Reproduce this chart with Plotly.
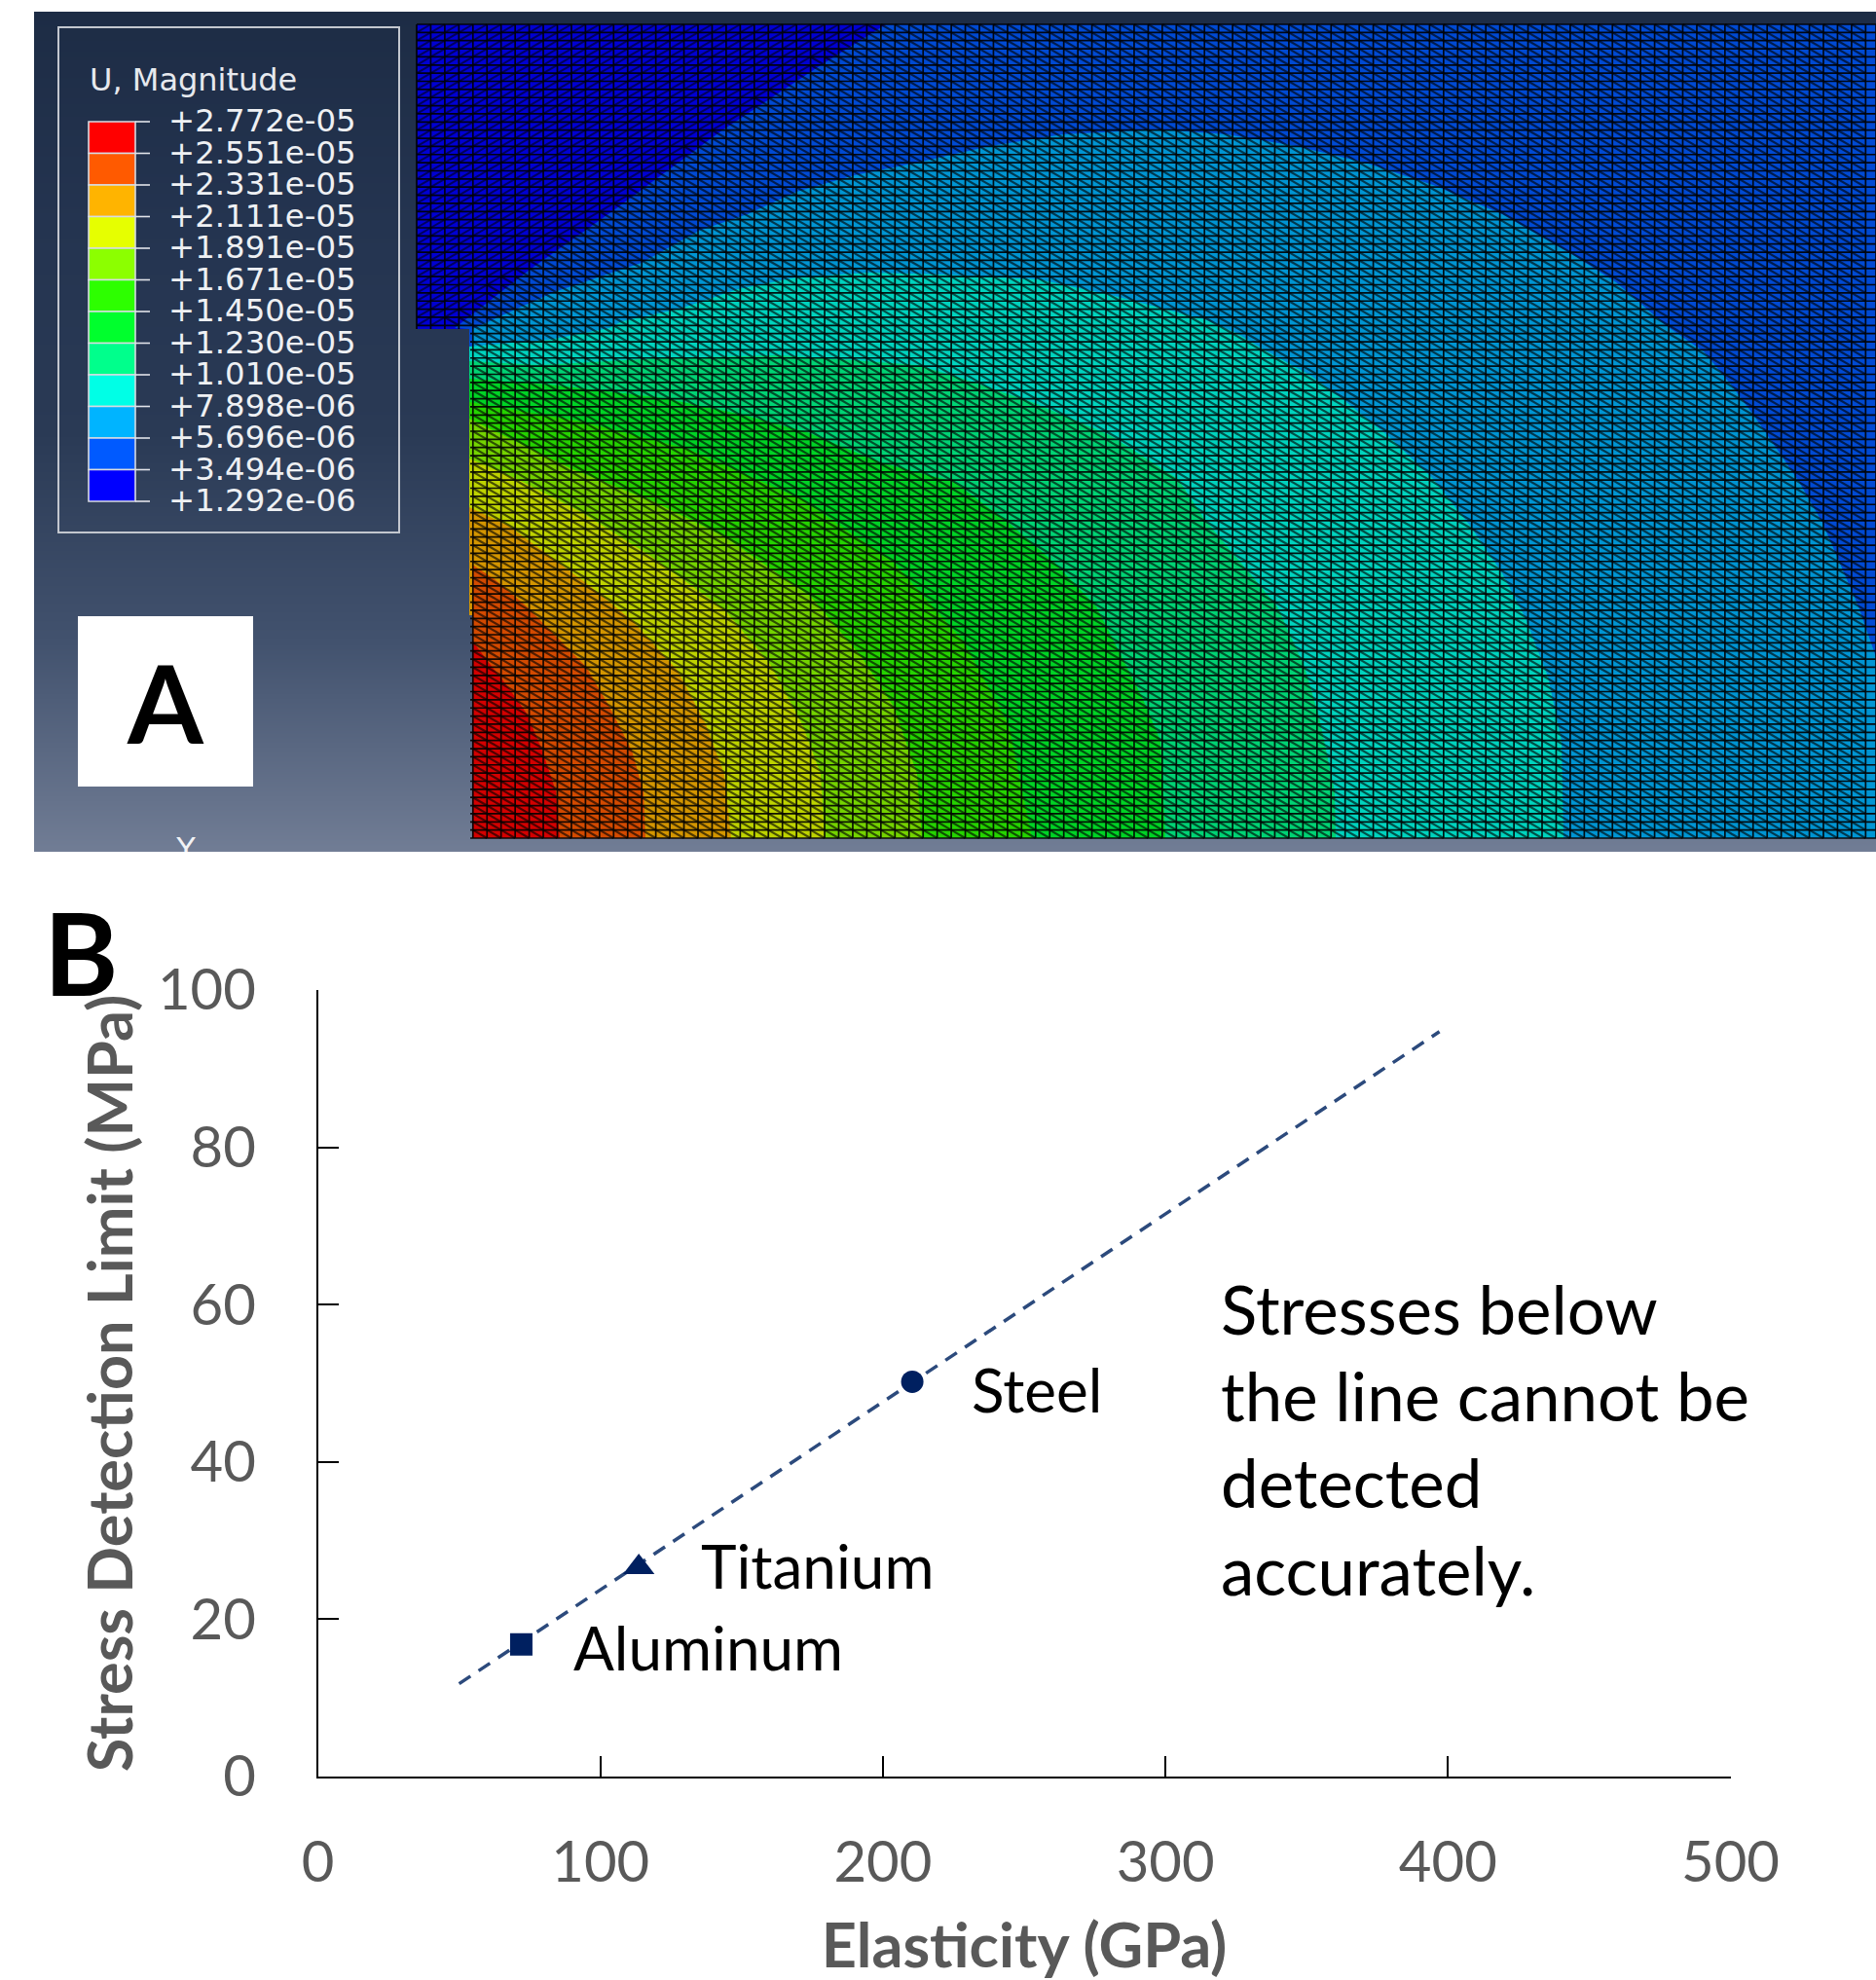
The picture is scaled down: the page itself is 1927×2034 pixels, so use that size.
import numpy as np
import plotly.graph_objects as go

# ---------- Panel B data ----------
material_names = ["Aluminum", "Titanium", "Steel"]
elasticity = [72, 113.6, 210.4]
stress_limit = [16.8, 26.6, 50.2]
material_symbols = ["square", "triangle-up", "circle"]
material_sizes = [23, 28, 23]
fit_x = [50, 397]
fit_y = [11.8, 94.7]
x_ticks = [0, 100, 200, 300, 400, 500]
y_ticks = [0, 20, 40, 60, 80, 100]
label_x = [89.6, 134.9, 230.6]
label_y = [16.4, 26.8, 49.25]
note_lines = ["Stresses below", "the line cannot be", "detected", "accurately."]
note_y = [59.5, 48.5, 37.5, 26.3]

# ---------- Panel A legend ----------
legend_labels = ["+2.772e-05", "+2.551e-05", "+2.331e-05", "+2.111e-05", "+1.891e-05",
                 "+1.671e-05", "+1.450e-05", "+1.230e-05", "+1.010e-05", "+7.898e-06",
                 "+5.696e-06", "+3.494e-06", "+1.292e-06"]
legend_colors = ["#ff0000", "#ff5a00", "#ffb400", "#e6ff00", "#8cff00", "#2dff00",
                 "#00ff2d", "#00ff8c", "#00ffe6", "#00b4ff", "#005aff", "#0000ff"]

# ---------- Panel A contour edges ----------
red_x = [485, 503, 522, 541, 557, 571, 575]
red_y = [658, 682, 706, 733, 771, 813, 861]
orange_x = [485, 508, 541, 569, 602, 626, 649, 661, 663]
orange_y = [580, 595, 623, 651, 685, 726, 771, 813, 861]
amber_x = [482, 522, 555, 602, 649, 696, 725, 744, 751]
amber_y = [521, 540, 564, 599, 637, 689, 744, 795, 861]
yellow_x = [482, 531, 597, 668, 744, 791, 824, 843, 847]
yellow_y = [471, 492, 526, 571, 626, 682, 744, 795, 861]
yellowgreen_x = [482, 588, 673, 744, 833, 885, 918, 942, 947]
yellowgreen_y = [430, 482, 516, 551, 613, 675, 726, 795, 861]
green_x = [482, 597, 706, 824, 918, 989, 1036, 1060]
green_y = [413, 433, 461, 513, 578, 658, 744, 861]
green2_x = [482, 564, 682, 763, 829, 904, 980, 1036, 1083, 1126, 1173, 1192, 1197]
green2_y = [389, 395, 409, 426, 444, 475, 495, 537, 578, 623, 716, 761, 861]
spring_x = [482, 555, 678, 800, 876, 942, 989, 1060, 1140, 1210, 1237, 1284, 1312, 1340, 1355, 1371, 1372]
spring_y = [371, 375, 368, 365, 370, 375, 389, 413, 447, 492, 533, 589, 623, 685, 737, 813, 861]
cyan_x = [482, 564, 626, 639, 699, 758, 818, 893, 967, 1067, 1141, 1200, 1237, 1270, 1298, 1345, 1378,
          1425, 1472, 1510, 1543, 1566, 1590, 1604, 1606]
cyan_y = [356, 349, 337, 330, 317, 297, 285, 280, 282, 287, 303, 318, 328, 342, 359, 385, 409,
          447, 492, 540, 589, 633, 695, 761, 861]
sky_x = [485, 569, 659, 718, 768, 818, 878, 942, 1017, 1092, 1190, 1260, 1331, 1402, 1472, 1543, 1613,
         1660, 1712, 1750, 1778, 1801, 1825, 1848, 1872, 1890, 1909, 1927]
sky_y = [338, 300, 270, 237, 220, 197, 180, 167, 150, 138, 133, 138, 150, 167, 190, 220, 260,
         290, 335, 361, 395, 426, 461, 495, 537, 578, 623, 675]
blue_x = [467, 544, 629, 743, 843, 910]
blue_y = [337, 277, 217, 133, 67, 25]

bg_y = [12, 228, 444, 660, 875]
bg_colors = ["#1d2c45", "#243450", "#2a3a55", "#42526e", "#717d95"]


def dim(hex_color, k=0.83):
    r, g, b = [int(hex_color[i:i + 2], 16) for i in (1, 3, 5)]
    return f"rgb({int(r * k)},{int(g * k)},{int(b * k)})"


fig = go.Figure()

# background gradient
fig.add_trace(go.Heatmap(
    x=[35, 1927], y=bg_y, z=[[i, i] for i in range(5)], zsmooth="best", showscale=False,
    colorscale=[[i / 4, c] for i, c in enumerate(bg_colors)], zmin=0, zmax=4, hoverinfo="skip",
    xaxis="x", yaxis="y"))


def add_region(xs, ys, color):
    fig.add_trace(go.Scatter(x=xs, y=ys, mode="lines", fill="toself", fillcolor=dim(color),
                             line=dict(width=0), hoverinfo="skip", showlegend=False,
                             xaxis="x", yaxis="y"))


# whole mesh = lowest band
add_region([428, 1927, 1927, 485, 485, 482, 482, 428], [25, 25, 861, 861, 632, 632, 338, 338], legend_colors[11])
add_region(blue_x + [1927, 1927, 485, 485, 482, 482], blue_y + [25, 861, 861, 632, 632, 338], legend_colors[10])
add_region(sky_x + [1927, 485], sky_y + [861, 861], legend_colors[9])
for cx, cy, col in [(cyan_x, cyan_y, 8), (spring_x, spring_y, 7), (green2_x, green2_y, 6),
                    (green_x, green_y, 5), (yellowgreen_x, yellowgreen_y, 4),
                    (yellow_x, yellow_y, 3), (amber_x, amber_y, 2)]:
    add_region(cx + [485, 485, 482], cy + [861, 632, 632], legend_colors[col])
add_region(orange_x + [485], orange_y + [861], legend_colors[1])
add_region(red_x + [485], red_y + [861], legend_colors[0])

# element mesh
cols = np.arange(428, 1927, 14.45)
rows = np.arange(25, 861.5, 8.36)
gx, gy = [], []
for c in cols:
    gx += [c, c, None]
    gy += [25, 861 if c >= 482 else 338, None]
gx += [1927, 1927, None]
gy += [25, 861, None]
for r in rows:
    gx += [428 if r <= 339 else 483, 1927, None]
    gy += [r, r, None]
dx, dy, ux, uy = [], [], [], []
for c in cols:
    for r in rows[:-1]:
        if c < 482 and r + 8.36 > 339:
            continue
        if c + 14.45 > 1927:
            continue
        if c + (r - 25) * 1.42 < 880:
            ux += [c, c + 14.45, None]
            uy += [r + 8.36, r, None]
        else:
            dx += [c, c + 14.45, None]
            dy += [r, r + 8.36, None]
for mx, my, w, op in [(dx, dy, 2.2, 0.62), (ux, uy, 2.0, 0.55), (gx, gy, 1.7, 0.9)]:
    fig.add_trace(go.Scatter(x=mx, y=my, mode="lines", line=dict(color="black", width=w), opacity=op,
                             hoverinfo="skip", showlegend=False, xaxis="x", yaxis="y"))

# legend tick labels, title and the clipped triad letter
legend_y = [125 + 32.5 * i for i in range(13)]
fig.add_trace(go.Scatter(x=[173] * 13, y=[v + 2 for v in legend_y], mode="text", text=legend_labels,
                         textposition="middle right",
                         textfont=dict(family="DejaVu Sans", size=32.4, color="#eef0f3"),
                         hoverinfo="skip", showlegend=False, xaxis="x", yaxis="y"))
fig.add_trace(go.Scatter(x=[92], y=[85], mode="text", text=["U, Magnitude"], textposition="middle right",
                         textfont=dict(family="DejaVu Sans", size=32, color="#e6e9ee"),
                         hoverinfo="skip", showlegend=False, xaxis="x", yaxis="y"))
fig.add_trace(go.Scatter(x=[191], y=[875], mode="text", text=["Y"], textposition="middle center",
                         textfont=dict(family="DejaVu Sans", size=32, color="#f2f3f6"),
                         hoverinfo="skip", showlegend=False, xaxis="x", yaxis="y"))

shapes = [dict(type="rect", xref="x", yref="y", x0=60, x1=410, y0=28, y1=547,
               line=dict(color="#c3c7cf", width=2), fillcolor="rgba(0,0,0,0)"),
          dict(type="rect", xref="x", yref="y", x0=80, x1=260, y0=633, y1=808,
               line=dict(width=0), fillcolor="white")]
for i, col in enumerate(legend_colors):
    shapes.append(dict(type="rect", xref="x", yref="y", x0=91, x1=139, y0=legend_y[i], y1=legend_y[i + 1],
                       line=dict(color="#d8dbe2", width=1.6), fillcolor=col))
for yy in legend_y:
    shapes.append(dict(type="line", xref="x", yref="y", x0=139, x1=154, y0=yy, y1=yy,
                       line=dict(color="#e2e4ea", width=1.6)))

# ---------- Panel B ----------
fig.add_trace(go.Scatter(x=fit_x, y=fit_y, mode="lines",
                         line=dict(color="#2c4a7c", width=3.5, dash="14px,10px"),
                         hoverinfo="skip", showlegend=False, xaxis="x2", yaxis="y2"))
fig.add_trace(go.Scatter(x=elasticity, y=stress_limit, mode="markers",
                         marker=dict(color="#002060", symbol=material_symbols, size=material_sizes,
                                     opacity=1, line=dict(width=0)),
                         text=material_names, showlegend=False, xaxis="x2", yaxis="y2"))

text_font = dict(family="Lato", size=62, color="black")
annotations = []
for name, ax_, ay_ in zip(material_names, label_x, label_y):
    annotations.append(dict(x=ax_, y=ay_, xref="x2", yref="y2", text=name, showarrow=False,
                            xanchor="left", yanchor="middle", font=text_font))
for line, ny in zip(note_lines, note_y):
    annotations.append(dict(x=318.9, y=ny, xref="x2", yref="y2", text=line, showarrow=False,
                            xanchor="left", yanchor="middle", font=dict(family="Lato", size=69, color="black")))
annotations.append(dict(x=170, y=720, xref="x", yref="y", text="<b>A</b>", showarrow=False, xanchor="center",
                        font=dict(family="Lato", size=112, color="black")))
annotations.append(dict(x=83 / 1927, y=1 - 978 / 2034, xref="paper", yref="paper", text="<b>B</b>",
                        showarrow=False, xanchor="center",
                        font=dict(family="Lato", size=116, color="black")))

axis_text = dict(family="Lato", size=58, color="#595959")
title_font = dict(family="Lato", size=63, color="#595959", weight="bold")
fig.update_layout(
    width=1927, height=2034, margin=dict(l=0, r=0, t=0, b=0),
    paper_bgcolor="white", plot_bgcolor="rgba(0,0,0,0)", showlegend=False,
    shapes=shapes, annotations=annotations,
    xaxis=dict(domain=[35 / 1927, 1], range=[35, 1927], visible=False, anchor="y", automargin=False),
    yaxis=dict(domain=[1 - 875 / 2034, 1 - 12 / 2034], range=[875, 12], visible=False, anchor="x", automargin=False),
    xaxis2=dict(domain=[326.5 / 1927, 1777.5 / 1927], range=[0, 500], anchor="y2", tickvals=x_ticks,
                showline=True, linecolor="black", linewidth=2, ticks="inside", ticklen=21, tickwidth=2,
                tickcolor="black", showgrid=False, zeroline=False, tickfont=axis_text, ticklabelstandoff=36,
                automargin=False,
                title=dict(text="Elasticity (GPa)", font=title_font, standoff=38)),
    yaxis2=dict(domain=[1 - 1825 / 2034, 1 - 1017 / 2034], range=[0, 100], anchor="x2", tickvals=y_ticks,
                showline=True, linecolor="black", linewidth=2, ticks="inside", ticklen=21, tickwidth=2,
                tickcolor="black", showgrid=False, zeroline=False, tickfont=axis_text, ticklabelstandoff=50,
                automargin=False,
                title=dict(text="Stress Detection Limit (MPa)", font=title_font, standoff=5)),
)

fig.write_html("out.html", config=dict(displayModeBar=False),
               post_script="document.body.style.margin='0';document.body.style.overflow='hidden';")
